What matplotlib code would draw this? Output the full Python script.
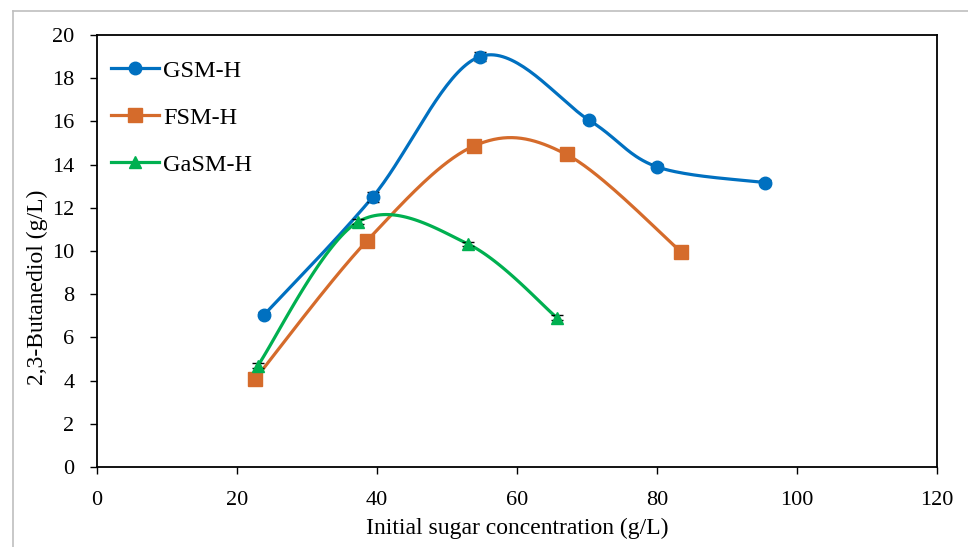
import numpy as np
import matplotlib.pyplot as plt
from matplotlib.lines import Line2D

plt.rcParams['font.family'] = ['Liberation Serif', 'DejaVu Serif']

# data
gsm_x = [23.9, 39.4, 54.7, 70.3, 80.0, 95.4]
gsm_y = [7.05, 12.5, 19.0, 16.06, 13.9, 13.17]
gsm_err = [0.12, 0.25, 0.22, 0.12, 0.12, 0.12]

fsm_x = [22.6, 38.6, 53.9, 67.1, 83.4]
fsm_y = [4.07, 10.48, 14.87, 14.47, 9.98]
fsm_err = [0.1, 0.1, 0.12, 0.1, 0.1]

gasm_x = [23.0, 37.3, 53.0, 65.7]
gasm_y = [4.7, 11.35, 10.33, 6.92]
gasm_err = [0.12, 0.12, 0.1, 0.1]

YSCALE = 3.086  # y-units to x-units ratio on screen


def smooth(xs, ys, n=40):
    # Excel-style smoothed line: cubic Bezier with 1/6 Catmull-Rom controls
    p = np.column_stack([xs, np.array(ys) * YSCALE])
    out = []
    for i in range(len(p) - 1):
        p0 = p[i - 1] if i > 0 else p[i]
        p1, p2 = p[i], p[i + 1]
        p3 = p[i + 2] if i + 2 < len(p) else p[i + 1]
        c1 = p1 + (p2 - p0) / 6
        c2 = p2 - (p3 - p1) / 6
        t = np.linspace(0, 1, n)[:, None]
        seg = ((1 - t) ** 3) * p1 + 3 * ((1 - t) ** 2) * t * c1 + 3 * (1 - t) * t ** 2 * c2 + t ** 3 * p2
        out.append(seg)
    s = np.vstack(out)
    return s[:, 0], s[:, 1] / YSCALE


fig = plt.figure(figsize=(9.68, 5.47), dpi=100)
# light grey frame (top and left edges only)
fx, fy = 12.5 / 968, 1 - 10.5 / 547
fig.add_artist(Line2D([fx, 1], [fy, fy], transform=fig.transFigure, color='#bfbfbf', lw=1.2))
fig.add_artist(Line2D([fx, fx], [0, fy], transform=fig.transFigure, color='#bfbfbf', lw=1.2))

ax = fig.add_axes([0.100, 0.146, 0.868, 0.790])

series = [
    (gsm_x, gsm_y, gsm_err, '#0070C0', 'o', 9, 'GSM-H'),
    (fsm_x, fsm_y, fsm_err, '#D56B2B', 's', 10, 'FSM-H'),
    (gasm_x, gasm_y, gasm_err, '#00B050', '^', 9, 'GaSM-H'),
]
for xs, ys, err, col, mk, ms, lab in series:
    sx, sy = smooth(xs, ys)
    ax.plot(sx, sy, color=col, lw=2.3, zorder=2)
    ax.errorbar(xs, ys, yerr=err, fmt='none', ecolor='black', elinewidth=0.8, capsize=4, zorder=3)
    ax.plot(xs, ys, ls='none', marker=mk, ms=ms, color=col, zorder=4)
    ax.plot([], [], color=col, lw=2.3, marker=mk, ms=ms, label=lab)

ax.set_xlim(0, 120)
ax.set_ylim(0, 20)
ax.set_xticks(range(0, 121, 20))
ax.set_yticks(range(0, 21, 2))
ax.tick_params(direction='out', length=5, width=1, labelsize=16)
ax.tick_params(axis='x', pad=12)
ax.tick_params(axis='y', pad=11)
for s in ax.spines.values():
    s.set_linewidth(1.3)
ax.set_xlabel('Initial sugar concentration (g/L)', fontsize=17, labelpad=6)
ax.set_ylabel('2,3-Butanediol (g/L)', fontsize=17)
ax.yaxis.set_label_coords(-0.058, 0.417)
ax.legend(loc='upper left', bbox_to_anchor=(0.005, 0.965), borderaxespad=0,
          frameon=False, fontsize=17.5, handlelength=2.0,
          handletextpad=0.15, labelspacing=1.03)

fig.savefig('out.png', dpi=100)
